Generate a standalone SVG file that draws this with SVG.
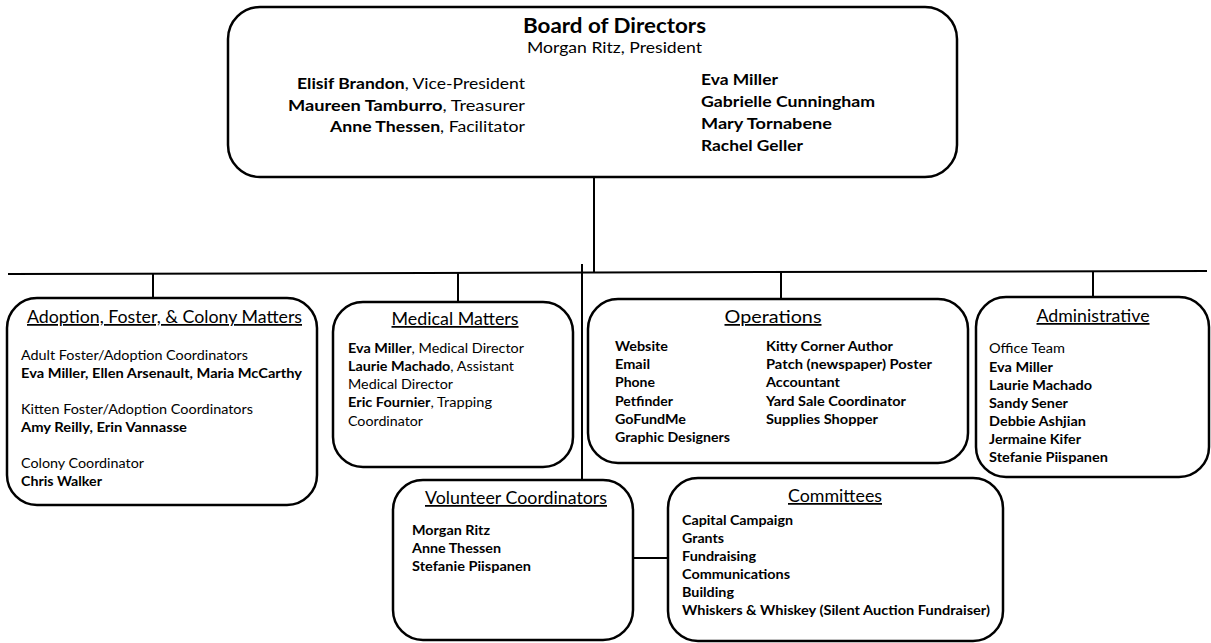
<svg xmlns="http://www.w3.org/2000/svg" width="1211" height="643" viewBox="0 0 1211 643">
<style>
.box{fill:#fff;stroke:#000;stroke-width:2.5}
.ln{stroke:#000;stroke-width:2;fill:none}
text{font-family:Lato,"Liberation Sans",sans-serif;fill:#000}
.b{font-weight:bold}
.t{font-size:17.5px;text-decoration:underline;text-anchor:middle}
.s{font-size:13.5px}
.m{font-size:15.5px}
</style>
<rect width="1211" height="643" fill="#fff"/>
<g id="connectors">
<line class="ln" x1="594" y1="177" x2="594" y2="272"/>
<path class="ln" d="M8 274 L1207 271"/>
<line class="ln" x1="153" y1="274" x2="153" y2="298"/>
<line class="ln" x1="458" y1="273" x2="458" y2="302"/>
<line class="ln" x1="582" y1="264" x2="582" y2="480"/>
<line class="ln" x1="781" y1="272" x2="781" y2="299"/>
<line class="ln" x1="1093" y1="271" x2="1093" y2="297"/>
<line class="ln" x1="633" y1="558" x2="668" y2="558"/>
</g>
<g id="board">
<rect class="box" x="228" y="7" width="729" height="170" rx="32"/>
<text class="b" x="614.5" y="33" font-size="20.5" text-anchor="middle" textLength="183" lengthAdjust="spacingAndGlyphs">Board of Directors</text>
<text x="614.5" y="53" font-size="16" text-anchor="middle" textLength="175" lengthAdjust="spacingAndGlyphs">Morgan Ritz, President</text>
<text class="m" x="525" y="89" text-anchor="end" textLength="228" lengthAdjust="spacingAndGlyphs"><tspan class="b">Elisif Brandon</tspan>, Vice-President</text>
<text class="m" x="525" y="110.5" text-anchor="end" textLength="237" lengthAdjust="spacingAndGlyphs"><tspan class="b">Maureen Tamburro</tspan>, Treasurer</text>
<text class="m" x="525" y="132" text-anchor="end" textLength="195" lengthAdjust="spacingAndGlyphs"><tspan class="b">Anne Thessen</tspan>, Facilitator</text>
<text class="m b" x="701" y="85" textLength="77" lengthAdjust="spacingAndGlyphs">Eva Miller</text>
<text class="m b" x="701" y="107" textLength="174" lengthAdjust="spacingAndGlyphs">Gabrielle Cunningham</text>
<text class="m b" x="701" y="129" textLength="131" lengthAdjust="spacingAndGlyphs">Mary Tornabene</text>
<text class="m b" x="701" y="151" textLength="102" lengthAdjust="spacingAndGlyphs">Rachel Geller</text>
</g>
<g id="adoption">
<rect class="box" x="7" y="298" width="310" height="207" rx="30"/>
<text class="t" x="164.5" y="323" textLength="275" lengthAdjust="spacingAndGlyphs">Adoption, Foster, &amp; Colony Matters</text>
<text class="s" x="21" y="360" textLength="227" lengthAdjust="spacingAndGlyphs">Adult Foster/Adoption Coordinators</text>
<text class="s b" x="21" y="378" textLength="281" lengthAdjust="spacingAndGlyphs">Eva Miller, Ellen Arsenault, Maria McCarthy</text>
<text class="s" x="21" y="414" textLength="232" lengthAdjust="spacingAndGlyphs">Kitten Foster/Adoption Coordinators</text>
<text class="s b" x="21" y="432" textLength="166" lengthAdjust="spacingAndGlyphs">Amy Reilly, Erin Vannasse</text>
<text class="s" x="21" y="468" textLength="123" lengthAdjust="spacingAndGlyphs">Colony Coordinator</text>
<text class="s b" x="21" y="486" textLength="81" lengthAdjust="spacingAndGlyphs">Chris Walker</text>
</g>
<g id="medical">
<rect class="box" x="333" y="302" width="240" height="165" rx="30"/>
<text class="t" x="455" y="325" textLength="127" lengthAdjust="spacingAndGlyphs">Medical Matters</text>
<text class="s" x="348" y="353" textLength="176" lengthAdjust="spacingAndGlyphs"><tspan class="b">Eva Miller</tspan>, Medical Director</text>
<text class="s" x="348" y="371" textLength="166" lengthAdjust="spacingAndGlyphs"><tspan class="b">Laurie Machado</tspan>, Assistant</text>
<text class="s" x="348" y="389" textLength="105" lengthAdjust="spacingAndGlyphs">Medical Director</text>
<text class="s" x="348" y="407" textLength="144" lengthAdjust="spacingAndGlyphs"><tspan class="b">Eric Fournier</tspan>, Trapping</text>
<text class="s" x="348" y="426" textLength="75" lengthAdjust="spacingAndGlyphs">Coordinator</text>
</g>
<g id="operations">
<rect class="box" x="588" y="299" width="380" height="164" rx="30"/>
<text class="t" x="773" y="323" textLength="97" lengthAdjust="spacingAndGlyphs">Operations</text>
<text class="s b" x="615" y="351" textLength="53" lengthAdjust="spacingAndGlyphs">Website</text>
<text class="s b" x="615" y="369" textLength="35" lengthAdjust="spacingAndGlyphs">Email</text>
<text class="s b" x="615" y="387" textLength="40" lengthAdjust="spacingAndGlyphs">Phone</text>
<text class="s b" x="615" y="406" textLength="58" lengthAdjust="spacingAndGlyphs">Petfinder</text>
<text class="s b" x="615" y="424" textLength="71" lengthAdjust="spacingAndGlyphs">GoFundMe</text>
<text class="s b" x="615" y="442" textLength="115" lengthAdjust="spacingAndGlyphs">Graphic Designers</text>
<text class="s b" x="766" y="351" textLength="127" lengthAdjust="spacingAndGlyphs">Kitty Corner Author</text>
<text class="s b" x="766" y="369" textLength="166" lengthAdjust="spacingAndGlyphs">Patch (newspaper) Poster</text>
<text class="s b" x="766" y="387" textLength="74" lengthAdjust="spacingAndGlyphs">Accountant</text>
<text class="s b" x="766" y="406" textLength="140" lengthAdjust="spacingAndGlyphs">Yard Sale Coordinator</text>
<text class="s b" x="766" y="424" textLength="112" lengthAdjust="spacingAndGlyphs">Supplies Shopper</text>
</g>
<g id="administrative">
<rect class="box" x="976" y="297" width="233" height="180" rx="30"/>
<text class="t" x="1093" y="322" textLength="113" lengthAdjust="spacingAndGlyphs">Administrative</text>
<text class="s" x="989" y="353" textLength="76" lengthAdjust="spacingAndGlyphs">Office Team</text>
<text class="s b" x="989" y="372" textLength="64" lengthAdjust="spacingAndGlyphs">Eva Miller</text>
<text class="s b" x="989" y="390" textLength="103" lengthAdjust="spacingAndGlyphs">Laurie Machado</text>
<text class="s b" x="989" y="408" textLength="79" lengthAdjust="spacingAndGlyphs">Sandy Sener</text>
<text class="s b" x="989" y="426" textLength="97" lengthAdjust="spacingAndGlyphs">Debbie Ashjian</text>
<text class="s b" x="989" y="444" textLength="92" lengthAdjust="spacingAndGlyphs">Jermaine Kifer</text>
<text class="s b" x="989" y="462" textLength="119" lengthAdjust="spacingAndGlyphs">Stefanie Piispanen</text>
</g>
<g id="volunteer">
<rect class="box" x="393" y="480" width="240" height="160" rx="30"/>
<text class="t" x="516" y="504" textLength="182" lengthAdjust="spacingAndGlyphs">Volunteer Coordinators</text>
<text class="s b" x="412" y="535" textLength="78" lengthAdjust="spacingAndGlyphs">Morgan Ritz</text>
<text class="s b" x="412" y="553" textLength="89" lengthAdjust="spacingAndGlyphs">Anne Thessen</text>
<text class="s b" x="412" y="571" textLength="119" lengthAdjust="spacingAndGlyphs">Stefanie Piispanen</text>
</g>
<g id="committees">
<rect class="box" x="668" y="478" width="335" height="163" rx="30"/>
<text class="t" x="835" y="502" textLength="94" lengthAdjust="spacingAndGlyphs">Committees</text>
<text class="s b" x="682" y="525" textLength="111" lengthAdjust="spacingAndGlyphs">Capital Campaign</text>
<text class="s b" x="682" y="543" textLength="42" lengthAdjust="spacingAndGlyphs">Grants</text>
<text class="s b" x="682" y="561" textLength="74" lengthAdjust="spacingAndGlyphs">Fundraising</text>
<text class="s b" x="682" y="579" textLength="108" lengthAdjust="spacingAndGlyphs">Communications</text>
<text class="s b" x="682" y="597" textLength="52" lengthAdjust="spacingAndGlyphs">Building</text>
<text class="s b" x="682" y="615" textLength="308" lengthAdjust="spacingAndGlyphs">Whiskers &amp; Whiskey (Silent Auction Fundraiser)</text>
</g>
</svg>
